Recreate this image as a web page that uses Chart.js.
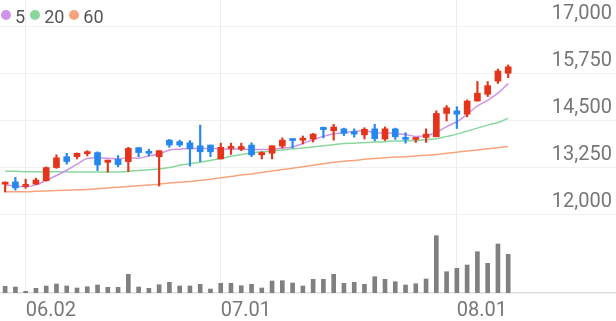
<!DOCTYPE html>
<html>
<head>
<meta charset="utf-8">
<script src="https://cdn.jsdelivr.net/npm/chart.js@4.4.0/dist/chart.umd.min.js"></script>
<style>
    body { margin: 0; background: #fff; }
    #wrap { position: relative; width: 616px; height: 321px; }
    #legend { position: absolute; left: 1px; top: 4px; font-family: Roboto, sans-serif; font-size: 18px; color: #555; white-space: nowrap; }
    #legend span.dot { display: inline-block; width: 10px; height: 10px; border-radius: 50%; margin: 0 4px 2px 0; vertical-align: middle; }
    #legend span.txt { margin-right: 5px; vertical-align: middle; }
</style>
</head>
<body>
<div id="wrap">
    <canvas id="candle"></canvas>
    <div id="legend"></div>
</div>
<script>
// 캔들 데이터 (50일)
const opens  = [12820, 12880, 12760, 12820, 12910, 13260, 13550, 13550, 13630, 13660,
                13400, 13480, 13420, 13790, 13680, 13550, 13990, 13950, 13920, 13840,
                13860, 13490, 13770, 13750, 13860, 13600, 13640, 13830, 14010, 13990,
                14020, 14330, 14240, 14290, 14220, 14130, 14290, 14020, 14290, 14060,
                14010, 14060, 14080, 14700, 14770, 14680, 15030, 15210, 15560, 15770];
const highs  = [12880, 13000, 12950, 12980, 13280, 13600, 13640, 13650, 13710, 13680,
                13460, 13580, 13800, 13800, 13750, 13710, 14010, 13990, 13980, 14390,
                13860, 13910, 13910, 13910, 13920, 13680, 13840, 14050, 14010, 14100,
                14170, 14340, 14410, 14310, 14290, 14320, 14410, 14340, 14310, 14190,
                14040, 14290, 14770, 14910, 14880, 15060, 15550, 15550, 15880, 15990];
const lows   = [12610, 12660, 12710, 12810, 12900, 13240, 13350, 13490, 13570, 13180,
                13140, 13280, 13150, 13550, 13570, 12770, 13800, 13820, 13300, 13420,
                13550, 13490, 13610, 13710, 13550, 13490, 13490, 13780, 13780, 13890,
                13940, 14050, 13990, 14110, 14070, 14020, 13970, 13980, 14010, 13910,
                13930, 13930, 14080, 14500, 14300, 14610, 15030, 15150, 15500, 15650];
const closes = [12870, 12720, 12800, 12930, 13260, 13520, 13420, 13640, 13680, 13330,
                13460, 13340, 13770, 13660, 13640, 13710, 13860, 13860, 13760, 13680,
                13680, 13800, 13820, 13820, 13600, 13660, 13840, 13990, 13980, 14040,
                14150, 14270, 14340, 14170, 14150, 14280, 14030, 14290, 14080, 14010,
                14040, 14150, 14700, 14850, 14680, 15030, 15240, 15440, 15830, 15940];
const volumes = [67000, 60000, 17000, 47000, 70000, 90000, 70000, 50000, 63000, 80000,
                 57000, 57000, 187000, 60000, 47000, 83000, 107000, 70000, 70000, 87000,
                 40000, 97000, 97000, 73000, 87000, 50000, 120000, 123000, 100000, 70000,
                 137000, 137000, 187000, 97000, 107000, 87000, 163000, 137000, 113000, 80000,
                 93000, 140000, 573000, 213000, 247000, 280000, 413000, 297000, 490000, 387000];

// 이동평균선
const ma5  = [12800, 12770, 12750, 12800, 12920, 13050, 13190, 13350, 13500, 13520,
              13510, 13490, 13520, 13510, 13570, 13620, 13730, 13750, 13770, 13770,
              13770, 13760, 13750, 13760, 13740, 13740, 13750, 13780, 13810, 13900,
              14000, 14090, 14160, 14190, 14220, 14240, 14190, 14180, 14170, 14140,
              14090, 14110, 14200, 14350, 14480, 14680, 14900, 15050, 15240, 15500];
const ma20 = [13160, 13160, 13150, 13150, 13150, 13150, 13150, 13140, 13140, 13140,
              13140, 13140, 13160, 13180, 13200, 13220, 13260, 13320, 13360, 13400,
              13450, 13500, 13560, 13610, 13650, 13680, 13700, 13730, 13760, 13780,
              13810, 13840, 13870, 13900, 13910, 13930, 13940, 13950, 13970, 13970,
              13980, 14010, 14030, 14090, 14150, 14230, 14310, 14390, 14460, 14570];
const ma60 = [12620, 12620, 12620, 12630, 12640, 12650, 12660, 12670, 12680, 12700,
              12720, 12740, 12760, 12780, 12800, 12820, 12850, 12870, 12890, 12920,
              12950, 12990, 13020, 13060, 13090, 13130, 13170, 13210, 13240, 13280,
              13320, 13360, 13400, 13430, 13450, 13480, 13500, 13520, 13540, 13550,
              13570, 13590, 13610, 13640, 13670, 13700, 13730, 13760, 13790, 13820];

// 축 눈금
const priceTicks = [12000, 13250, 14500, 15750, 17000];
const monthTicks = { 2: '06.02', 21: '07.01', 44: '08.01' };
const slotCount = 60; // 오른쪽 빈 공간 포함

const maNames  = ['5', '20', '60'];
const maColors = ['#cf93ea', '#8ad79e', '#f7a47e'];
const upColor = '#e5341c';
const downColor = '#2687f0';

var xLabels = [];
for (var i = 0; i < slotCount; i++) {
    xLabels.push(monthTicks[i] || '');
}

var candleColors = closes.map(function(c, i) {
    return c >= opens[i] ? upColor : downColor;
});

// 범례
var legendHtml = '';
maNames.forEach(function(name, i) {
    legendHtml += '<span class="dot" style="background:' + maColors[i] + '"></span><span class="txt">' + name + '</span>';
});
document.getElementById('legend').innerHTML = legendHtml;

function maLine(data, color) {
    return {
        type: 'line',
        data: data,
        yAxisID: 'y',
        borderColor: color,
        borderWidth: 1.5,
        pointRadius: 0,
        fill: false,
        cubicInterpolationMode: 'monotone',
        order: 1
    };
}

var tickFont = { family: 'Roboto', size: 20 };

var ctx = document.getElementById('candle').getContext('2d');
var candleChart = new Chart(ctx, {
    type: 'bar',
    data: {
        labels: xLabels,
        datasets: [
            { // 거래량
                data: volumes,
                yAxisID: 'yv',
                backgroundColor: '#808080',
                barThickness: 4,
                grouped: false,
                order: 3
            },
            { // 꼬리
                data: lows.map(function(l, i) { return [l, highs[i]]; }),
                yAxisID: 'y',
                backgroundColor: candleColors,
                barThickness: 1.5,
                grouped: false,
                order: 0
            },
            { // 몸통
                data: opens.map(function(o, i) { return [o, closes[i]]; }),
                yAxisID: 'y',
                backgroundColor: candleColors,
                barThickness: 6,
                minBarLength: 2,
                grouped: false,
                order: 0
            },
            maLine(ma5, maColors[0]),
            maLine(ma20, maColors[1]),
            maLine(ma60, maColors[2])
        ]
    },
    options: {
        responsive: true,
        maintainAspectRatio: false,
        animation: false,
        layout: { padding: 0 },
        plugins: {
            legend: { display: false },
            tooltip: { enabled: false }
        },
        scales: {
            x: {
                offset: true,
                grid: {
                    offset: false,
                    drawTicks: false,
                    color: function(c) { return monthTicks[c.index] ? '#ececec' : 'rgba(0,0,0,0)'; }
                },
                border: { color: '#dedede', width: 1.5 },
                ticks: {
                    autoSkip: false,
                    maxRotation: 0,
                    minRotation: 0,
                    align: 'start',
                    padding: 6,
                    color: '#777',
                    font: tickFont,
                    callback: function(v, i) { return xLabels[i]; }
                },
                afterFit: function(s) {
                    s.height = 28;
                    s.paddingLeft = 0;
                    s.paddingRight = 0;
                }
            },
            y: {
                position: 'right',
                min: 9924,
                max: 17718,
                afterBuildTicks: function(s) {
                    s.ticks = priceTicks.map(function(v) { return { value: v }; });
                },
                afterFit: function(s) {
                    s.width = 0;
                    s.paddingTop = 0;
                    s.paddingBottom = 0;
                },
                grid: { color: '#f0f0f0', drawTicks: false },
                border: { display: false },
                ticks: {
                    mirror: true,
                    padding: -4,
                    labelOffset: -13,
                    color: '#777',
                    font: tickFont,
                    callback: function(v) { return v.toLocaleString('en-US'); }
                }
            },
            yv: {
                display: false,
                min: 0,
                max: 2930000
            }
        }
    }
});
</script>
</body>
</html>
